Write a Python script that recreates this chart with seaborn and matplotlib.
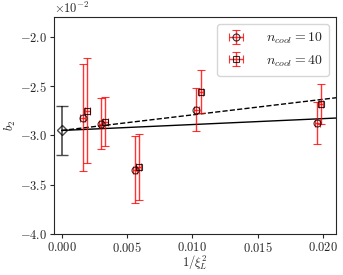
import numpy as np
import matplotlib
matplotlib.use('Agg')
import matplotlib.pyplot as plt
import seaborn as sns

# 1/xi_L^2 and b2 values
x_10 = [0.0016, 0.0030, 0.0056, 0.0103, 0.01955]
b2_10 = [-0.0282, -0.0288, -0.0335, -0.0274, -0.02875]
err_10 = [0.0054, 0.0026, 0.0034, 0.0022, 0.00215]

x_40 = [0.00195, 0.00335, 0.0059, 0.01065, 0.01985]
b2_40 = [-0.0275, -0.0286, -0.0332, -0.02555, -0.0268]
err_40 = [0.0053, 0.0025, 0.0033, 0.00215, 0.0020]

xerr = 0.00018

# continuum extrapolation
x_cont = [0.0]
b2_cont = [-0.0295]
err_cont = [0.0025]

fit_x = [0.0, 0.0215]
fit_solid = (-0.0295, 0.060)   # intercept, slope
fit_dashed = (-0.0295, 0.158)

sns.set_style('ticks')
plt.rcParams['font.family'] = 'serif'
plt.rcParams['font.serif'] = ['cmr10', 'DejaVu Serif']
plt.rcParams['mathtext.fontset'] = 'cm'
plt.rcParams['axes.formatter.use_mathtext'] = True
plt.rcParams['axes.unicode_minus'] = True

fig, ax = plt.subplots(figsize=(3.43, 2.75), dpi=100)
fig.subplots_adjust(left=0.157, right=0.98, bottom=0.149, top=0.938)

fx = np.array(fit_x)
sns.lineplot(x=fx, y=fit_solid[0] + fit_solid[1] * fx, ax=ax, color='black', linewidth=1.0)
sns.lineplot(x=fx, y=fit_dashed[0] + fit_dashed[1] * fx, ax=ax, color='black',
             linewidth=1.0, linestyle='--')

ax.errorbar(x_10, b2_10, yerr=err_10, xerr=xerr, fmt='o', mfc='none', mec='black',
            ms=5, mew=0.8, ecolor='red', elinewidth=1.0, capsize=3, alpha=0.8,
            label=r'$n_{cool} = 10$')
ax.errorbar(x_40, b2_40, yerr=err_40, xerr=xerr, fmt='s', mfc='none', mec='black',
            ms=5, mew=0.8, ecolor='red', elinewidth=1.0, capsize=3, alpha=0.8,
            label=r'$n_{cool} = 40$')
ax.errorbar(x_cont, b2_cont, yerr=err_cont, fmt='D', mfc='none', mec='black',
            ms=5, mew=1.0, ecolor='black', elinewidth=1.2, capsize=4, alpha=0.7)

ax.set_xlim(-0.0006, 0.021)
ax.set_ylim(-0.040, -0.018)
ax.set_yticks([-0.040, -0.035, -0.030, -0.025, -0.020])
ax.set_xticks([0.0, 0.005, 0.010, 0.015, 0.020])
ax.ticklabel_format(axis='y', style='sci', scilimits=(0, 0))
ax.tick_params(labelsize=9, length=3, pad=2)
ax.yaxis.get_offset_text().set_fontsize(9)

ax.set_xlabel(r'$1/\xi_L^2$', fontsize=9, labelpad=-1)
ax.set_ylabel(r'$b_2$', fontsize=9, labelpad=1)
ax.legend(loc='upper right', fontsize=10, frameon=True, handlelength=1.8,
          handletextpad=1.2, borderpad=0.5, labelspacing=0.5)

fig.savefig('out.png', dpi=100)
